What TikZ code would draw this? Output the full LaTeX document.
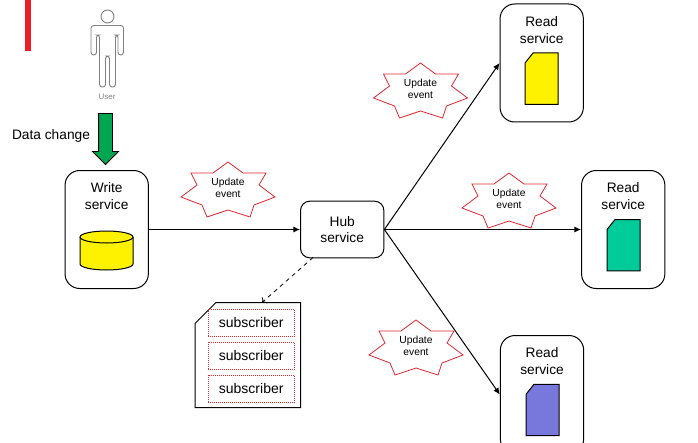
\documentclass[tikz,border=0pt]{standalone}
\usepackage{fontspec}
\setmainfont{Liberation Sans}
\usepackage{tikz}
\usetikzlibrary{positioning,arrows.meta,shapes.arrows}
\definecolor{burstred}{RGB}{226,40,48}
\definecolor{barred}{RGB}{238,28,37}
\definecolor{changegreen}{RGB}{0,166,80}
\definecolor{sheetteal}{RGB}{0,204,153}
\definecolor{sheetblue}{RGB}{120,120,220}

\tikzset{
  service/.style={draw, rounded corners=11pt, line width=0.75pt, minimum width=62.5pt, minimum height=88.5pt},
  title/.style={align=center, font=\fontsize{10.3}{12.6}\selectfont, inner sep=0pt},
  member/.style={draw=burstred, densely dotted, line width=0.5pt, minimum width=65pt, minimum height=20pt, inner sep=0pt, font=\fontsize{10.5}{12}\selectfont},
  link/.style={-{Latex[length=5pt,width=4.5pt]}, line width=0.75pt},
  burst/.pic={
    \draw[burstred, line width=0.6pt, fill=white] (0,-28) -- (15,-17) -- (38,-17) -- (31,-5) -- (47,7) -- (26,15) -- (22,27) -- (0,20)
      -- (-21,27) -- (-26,15) -- (-47,7) -- (-31,-5) -- (-37,-17) -- (-15,-17) -- cycle;
    \node[align=center, font=\fontsize{7.7}{9}\selectfont, inner sep=0pt] (-text) at (0,-2) {Update\\event};
  },
  sheet/.pic={
    \draw[fill=#1, line width=0.75pt, miter limit=10] (-16.5,-15.7) -- (-8.5,-25.7) -- (16.5,-25.7) -- (16.5,25.7) -- (-16.5,25.7) -- cycle;
  }
}

\begin{document}
\begin{tikzpicture}[x=0.75pt, y=-0.75pt]
  \clip (0,0) rectangle (698,442);
  \fill[barred] (25,0) rectangle (31,51);

  % the user
  \node[circle, draw=gray, line width=0.7pt, minimum size=9.75pt, inner sep=0pt] (head) at (107.5,16.5) {};
  \draw[gray, line width=0.7pt, rounded corners=2pt] (107.5,25.5) -- (123.5,25.5) -- (123.5,55) -- (118,55) -- (118,35) -- (115.5,35) -- (115.5,87) -- (109.5,87) -- (109.5,56)
    -- (105.5,56) -- (105.5,87) -- (99.5,87) -- (99.5,35) -- (96.5,35) -- (96.5,55) -- (91,55) -- (91,25.5) -- cycle;
  \node[text=gray, font=\fontsize{6}{7}\selectfont, inner sep=0pt] (user) at (107,97) {User};
  \node[single arrow, draw, fill=changegreen, shape border rotate=270, minimum width=18.75pt, minimum height=38.25pt, single arrow head extend=4.5pt, inner sep=4.875pt, line width=0.6pt] (change) at (105.5,135.5) {};
  \node[font=\fontsize{10.3}{12}\selectfont, inner sep=0pt] (changetext) at (51,135.5) {Data change};

  % the services
  \node[service] (write) at (106.7,229.5) {};
  \node[service, minimum height=42.5pt, rounded corners=7pt] (hub) at (342.2,229.5) {};
  \node[service] (read1) at (541.7,63) {};
  \node[service] (read2) at (623.2,229.5) {};
  \node[service] (read3) at (542,394.5) {};
  \node[title, below=9.5pt of write.north] (writetext) {Write\\service};
  \node[title] (hubtext) at (hub) {Hub\\service};
  \node[title, below=9.5pt of read1.north] (read1text) {Read\\service};
  \node[title, below=9.5pt of read2.north] (read2text) {Read\\service};
  \node[title, below=9.5pt of read3.north] (read3text) {Read\\service};

  \draw[fill=yellow, line width=0.75pt] (80,237) -- (80,264) arc[start angle=180, end angle=0, x radius=26.5, y radius=6] -- (133,237);
  \draw[fill=yellow, line width=0.75pt] (106.5,237) ellipse[x radius=26.5, y radius=6];
  \pic at (541.5,78.7) {sheet=yellow};
  \pic at (623.5,245.2) {sheet=sheetteal};
  \pic at (542.5,410) {sheet=sheetblue};

  % the subscriber list
  \draw[line width=0.75pt] (195,323.5) -- (216,302.5) -- (300.5,302.5) -- (300.5,407.5) -- (195,407.5) -- cycle;
  \node[member] (sub1) at (251.2,322.5) {subscriber};
  \node[member] (sub2) at (251.2,355.5) {subscriber};
  \node[member] (sub3) at (251.2,388.5) {subscriber};

  \coordinate (hubfoot) at (313,257.5);
  \coordinate (listtop) at (262,302.5);
  \draw[link] (write.east) -- (hub.west);
  \draw[link] (hub.east) -- (read1.west);
  \draw[link] (hub.east) -- (read2.west);
  \draw[link] (hub.east) -- (read3.west);
  \draw[->, dashed, line width=0.6pt] (hubfoot) -- (listtop);

  \pic (event1) at (228,190) {burst};
  \pic (event2) at (420.5,91) {burst};
  \pic (event3) at (509,201) {burst};
  \pic (event4) at (416,348) {burst};
\end{tikzpicture}
\end{document}
